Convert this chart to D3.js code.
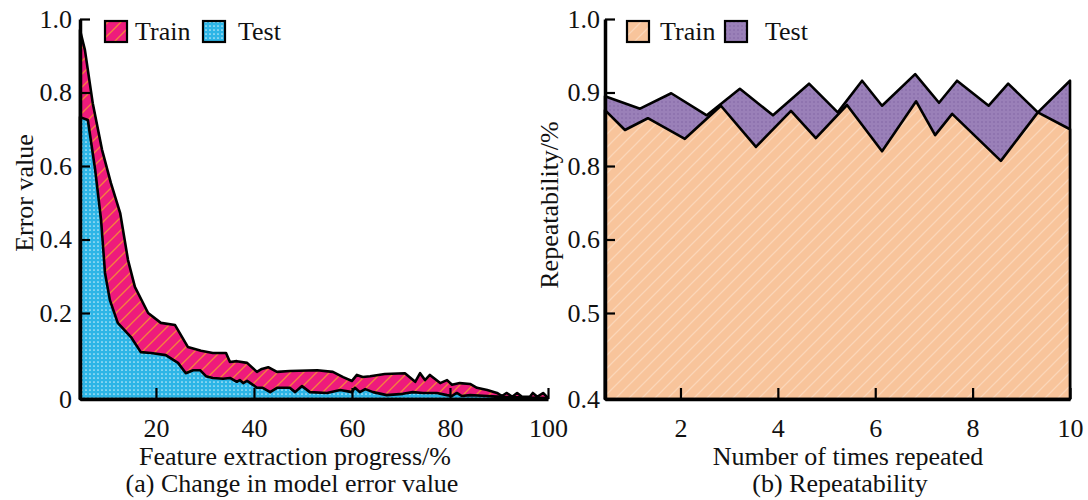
<!DOCTYPE html>
<html>
<head>
<meta charset="utf-8">
<script src="https://cdn.jsdelivr.net/npm/d3@7"></script>
<style>
  body { margin: 0; background: #fff; }
  text { font-family: "Liberation Serif", "Times New Roman", serif; fill: #111; }
</style>
</head>
<body>
<div id="chart"></div>
<script>
// (a) error value vs feature extraction progress
var trainX_a = [4.5, 5.5, 7.1, 9.0, 10.8, 12.7, 14.3, 15.7, 18.4, 21.0, 23.9, 26.5, 29.2, 31.6, 34.3, 35.1, 36.5, 38.6, 40.6, 41.6, 42.9, 44.7, 47.3, 52.9, 56.1, 58.2, 60.0, 61.0, 62.2, 63.7, 66.7, 70.8, 72.9, 73.9, 74.9, 75.9, 78.0, 79.4, 80.4, 82.0, 84.1, 85.5, 87.6, 89.6, 90.6, 91.6, 92.7, 93.7, 94.7, 96.3, 96.9, 97.8, 99.0, 99.8];
var trainY_a = [0.970, 0.916, 0.771, 0.644, 0.554, 0.472, 0.344, 0.271, 0.200, 0.177, 0.172, 0.121, 0.112, 0.107, 0.107, 0.086, 0.088, 0.084, 0.063, 0.070, 0.074, 0.063, 0.065, 0.067, 0.063, 0.051, 0.042, 0.056, 0.051, 0.053, 0.058, 0.060, 0.040, 0.060, 0.044, 0.056, 0.037, 0.044, 0.033, 0.037, 0.035, 0.026, 0.021, 0.014, 0.007, 0.014, 0.005, 0.014, 0.005, 0.005, 0.014, 0.005, 0.014, 0.005];
var testX_a = [4.5, 6.1, 7.6, 8.8, 9.6, 10.6, 12.2, 14.9, 16.9, 19.0, 22.0, 24.5, 26.1, 27.6, 29.0, 29.6, 30.2, 31.6, 33.7, 35.1, 36.5, 37.1, 37.8, 38.6, 39.8, 40.6, 41.8, 43.3, 44.7, 47.3, 48.4, 49.8, 51.4, 54.9, 57.6, 60.0, 60.6, 61.6, 62.7, 64.3, 67.1, 70.4, 72.4, 74.5, 77.3, 79.4, 80.4, 81.4, 82.4, 84.1, 87.6, 90.8, 99.8];
var testY_a = [0.733, 0.725, 0.589, 0.453, 0.309, 0.235, 0.177, 0.144, 0.109, 0.107, 0.102, 0.084, 0.060, 0.067, 0.067, 0.060, 0.053, 0.049, 0.047, 0.049, 0.040, 0.044, 0.037, 0.042, 0.033, 0.026, 0.026, 0.016, 0.026, 0.026, 0.016, 0.030, 0.016, 0.014, 0.021, 0.016, 0.026, 0.016, 0.023, 0.016, 0.009, 0.012, 0.016, 0.014, 0.014, 0.009, 0.007, 0.014, 0.007, 0.009, 0.007, 0.005, 0.002];
var xTicks_a = [20, 40, 60, 80, 100];
var yTicks_a = [0, 0.2, 0.4, 0.6, 0.8, 1.0];

// (b) repeatability
var trainX_b = [0.45, 0.86, 1.33, 2.09, 2.83, 3.55, 4.27, 4.78, 5.42, 6.14, 6.84, 7.23, 7.58, 8.58, 9.34, 10];
var trainY_b = [0.876, 0.849, 0.865, 0.837, 0.882, 0.826, 0.875, 0.838, 0.883, 0.820, 0.888, 0.842, 0.871, 0.807, 0.873, 0.850];
var testX_b = [0.45, 1.17, 1.81, 2.54, 3.22, 3.90, 4.64, 5.23, 5.73, 6.14, 6.82, 7.31, 7.68, 8.33, 8.73, 9.34, 10];
var testY_b = [0.895, 0.878, 0.899, 0.869, 0.905, 0.869, 0.912, 0.873, 0.916, 0.882, 0.925, 0.886, 0.916, 0.882, 0.912, 0.873, 0.916];
var xTicks_b = [2, 4, 6, 8, 10];
var yTicks_b = [0.4, 0.5, 0.6, 0.8, 0.9, 1.0];

var svg = d3.select("#chart").append("svg")
  .attr("width", 1088)
  .attr("height", 500);

// patterns
var defs = svg.append("defs");
function hatch(id, bg, line, size) {
  var p = defs.append("pattern").attr("id", id)
    .attr("patternUnits", "userSpaceOnUse")
    .attr("width", size).attr("height", size);
  p.append("rect").attr("width", size).attr("height", size).attr("fill", bg);
  p.append("path")
    .attr("d", `M0,${size} L${size},0 M${-size/2},${size/2} L${size/2},${-size/2} M${size/2},${size*1.5} L${size*1.5},${size/2}`)
    .attr("stroke", line).attr("stroke-width", 1.3);
}
function dots(id, bg, dot, size, r) {
  var p = defs.append("pattern").attr("id", id)
    .attr("patternUnits", "userSpaceOnUse")
    .attr("width", size).attr("height", size);
  p.append("rect").attr("width", size).attr("height", size).attr("fill", bg);
  p.append("circle").attr("cx", size/2).attr("cy", size/2).attr("r", r).attr("fill", dot);
}
hatch("trainA", "#ee1b7c", "#f5823c", 13);
dots("testA", "#2db5e6", "#c6ecfa", 4, 0.85);
hatch("trainB", "#f8c49b", "#fbd6b8", 13);
dots("testB", "#9a80b8", "#8a6eab", 4, 0.9);

var pairs = (xs, ys) => xs.map((x, i) => [x, ys[i]]);

// ---------- chart (a)
var xA = d3.scaleLinear().domain([4.5, 100]).range([80, 548]);
var yA = d3.scaleLinear().domain([0, 0.2, 1]).range([399, 313, 19]);

var areaA = d3.area().x(d => xA(d[0])).y0(yA(0)).y1(d => yA(d[1]));
[["trainA", pairs(trainX_a, trainY_a)], ["testA", pairs(testX_a, testY_a)]].forEach(s => {
  svg.append("path").attr("d", areaA(s[1]))
    .attr("fill", `url(#${s[0]})`)
    .attr("stroke", "#000").attr("stroke-width", 2.6)
    .attr("stroke-linejoin", "round");
});

var axA_x = svg.append("g").attr("transform", "translate(0,399)")
  .call(d3.axisBottom(xA).tickValues(xTicks_a).tickSizeInner(-11).tickSizeOuter(0).tickPadding(20).tickFormat(d3.format("d")));
var axA_y = svg.append("g").attr("transform", "translate(80,0)")
  .call(d3.axisLeft(yA).tickValues(yTicks_a).tickSizeInner(-10).tickSizeOuter(0).tickPadding(8)
    .tickFormat(d => d === 0 ? "0" : d3.format(".1f")(d)));

// ---------- chart (b)
var xB = d3.scaleLinear().domain([0.45, 10]).range([605, 1070]);
var yB = d3.scaleLinear().domain(yTicks_b).range(yTicks_a.map(v => yA(v)));

var areaB = d3.area().x(d => xB(d[0])).y0(yB(0.4)).y1(d => yB(d[1]));
[["testB", pairs(testX_b, testY_b)], ["trainB", pairs(trainX_b, trainY_b)]].forEach(s => {
  svg.append("path").attr("d", areaB(s[1]))
    .attr("fill", `url(#${s[0]})`)
    .attr("stroke", "#000").attr("stroke-width", 2.6)
    .attr("stroke-linejoin", "round");
});

var axB_x = svg.append("g").attr("transform", "translate(0,399)")
  .call(d3.axisBottom(xB).tickValues(xTicks_b).tickSizeInner(-11).tickSizeOuter(0).tickPadding(20).tickFormat(d3.format("d")));
var axB_y = svg.append("g").attr("transform", "translate(605,0)")
  .call(d3.axisLeft(yB).tickValues(yTicks_b).tickSizeInner(-10).tickSizeOuter(0).tickPadding(5).tickFormat(d3.format(".1f")));

[axA_x, axA_y, axB_x, axB_y].forEach(g => {
  g.select(".domain").attr("stroke", "#000").attr("stroke-width", 3.5);
  g.selectAll(".tick line").attr("stroke", "#000").attr("stroke-width", 2.2);
  g.selectAll(".tick text").style("font-family", "Liberation Serif").style("font-size", "26px").attr("fill", "#111");
});

// titles
function label(x, y, txt, rot) {
  svg.append("text")
    .attr("transform", `translate(${x},${y})` + (rot ? " rotate(-90)" : ""))
    .attr("text-anchor", "middle")
    .style("font-size", "26px")
    .text(txt);
}
label(295, 465, "Feature extraction progress/%");
label(292, 492, "(a) Change in model error value");
label(33, 193, "Error value", true);
label(848, 465, "Number of times repeated");
label(840, 492, "(b) Repeatability");
label(558, 205, "Repeatability/%", true);

// legends
function legend(x0, items) {
  items.forEach(it => {
    svg.append("rect").attr("x", x0 + it.dx).attr("y", 21).attr("width", 22).attr("height", 21)
      .attr("fill", `url(#${it.pat})`).attr("stroke", "#000").attr("stroke-width", 2.2);
    svg.append("text").attr("x", x0 + it.dx + it.tx).attr("y", 40)
      .style("font-size", "26px").text(it.name);
  });
}
legend(105, [{dx: 0, tx: 30, pat: "trainA", name: "Train"}, {dx: 98, tx: 35, pat: "testA", name: "Test"}]);
legend(627, [{dx: 0, tx: 33, pat: "trainB", name: "Train"}, {dx: 98, tx: 40, pat: "testB", name: "Test"}]);
</script>
</body>
</html>
